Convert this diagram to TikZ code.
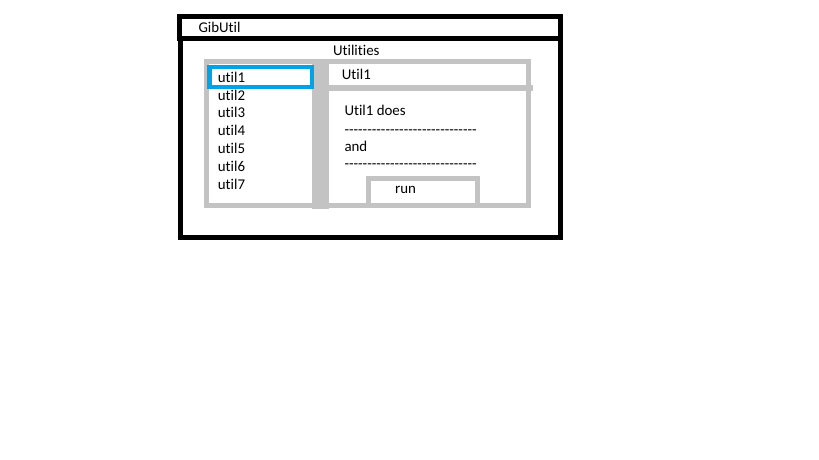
\documentclass[tikz,border=0pt]{standalone}
\usepackage{fontspec}
\newfontfamily\uifont[Ligatures={NoCommon}]{Carlito}
\usepackage{tikz}
\definecolor{hexcolor0xc3c3c3}{rgb}{0.765,0.765,0.765}
\definecolor{hexcolor0x00a2e8}{rgb}{0.000,0.635,0.910}
\definecolor{myblack}{rgb}{0.000,0.000,0.000}
\definecolor{mywhite}{rgb}{1.000,1.000,1.000}
\tikzstyle{uitext}=[inner sep=0,anchor=base west,text=myblack,font=\uifont\fontsize{14.9}{17}\selectfont]
\tikzstyle{winframe}=[draw=myblack,line width=5pt]
\tikzstyle{grayline}=[draw=hexcolor0xc3c3c3,line width=5pt]
\tikzstyle{graybar}=[fill=hexcolor0xc3c3c3]
\tikzstyle{selbox}=[draw=hexcolor0x00a2e8,line width=4.5pt]

\begin{document}
\begin{tikzpicture}[x=1pt,y=-1pt]
	\useasboundingbox[fill=mywhite] (0,0) rectangle (819,460);
	%panel
	\draw [style=grayline] (206.5,61.5) rectangle (528.5,205.5);
	\fill [style=graybar] (312.3,59) rectangle (329,209);
	\fill [style=graybar] (329,85.3) rectangle (532.5,90.5);
	\draw [style=grayline] (368.5,178.5) rectangle (477.5,205.5);
	\draw [style=selbox] (209.5,67.2) rectangle (311.8,86.8);
	%window
	\draw [style=winframe] (180.3,38.5) rectangle (560.8,237.5);
	\draw [style=winframe] (179.2,16.5) rectangle (560.8,38.5);
	%texts
	\node [style=uitext] (0) at (198.3,32.5) {GibUtil};
	\node [style=uitext,anchor=base] (1) at (356.3,56) {Utilities};
	\node [style=uitext] (2) at (217.7,82.3) {util1};
	\node [style=uitext] (3) at (217.7,100.1) {util2};
	\node [style=uitext] (4) at (217.7,117.9) {util3};
	\node [style=uitext] (5) at (217.7,135.7) {util4};
	\node [style=uitext] (6) at (217.7,153.5) {util5};
	\node [style=uitext] (7) at (217.7,171.3) {util6};
	\node [style=uitext] (8) at (217.7,189.1) {util7};
	\node [style=uitext] (9) at (341.7,79) {Util1};
	\node [style=uitext] (10) at (344.3,115.7) {Util1 does};
	\node [style=uitext] (11) at (344.3,134.5) {-----------------------------};
	\node [style=uitext] (12) at (344.3,151.5) {and};
	\node [style=uitext] (13) at (344.3,168) {-----------------------------};
	\node [style=uitext,anchor=base] (14) at (405.5,193.3) {run};
\end{tikzpicture}
\end{document}
